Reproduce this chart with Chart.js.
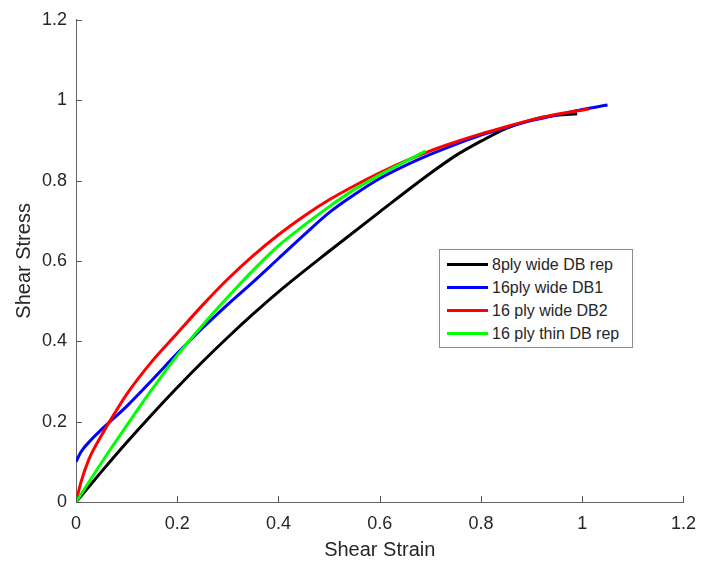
<!DOCTYPE html>
<html lang="en">
<head>
    <meta charset="UTF-8">
    <title>Shear Stress vs Shear Strain</title>
    <script src="https://cdn.jsdelivr.net/npm/chart.js"></script>
    <style>
        body { margin: 0; background: #fff; }
        #wrap { position: relative; width: 707px; height: 567px; }
        #legend {
            position: absolute; left: 439px; top: 249px; width: 192px; height: 97px;
            border: 1px solid #8c8c8c; background: #fff;
            font-family: "Liberation Sans", Arial, sans-serif; font-size: 16px; color: #262626;
        }
        #legend .row { position: absolute; left: 0; height: 23px; line-height: 23px; white-space: nowrap; }
        #legend .swatch { position: absolute; left: 7px; top: 10px; width: 41px; height: 3px; }
        #legend .label { position: absolute; left: 52px; top: 0; }
    </style>
</head>
<body>
<div id="wrap">
    <canvas id="myChart" width="707" height="567"></canvas>
    <div id="legend"></div>
</div>

<script>
    // series (x = shear strain, y = shear stress)
    var seriesNames = ['8ply wide DB rep', '16ply wide DB1', '16 ply wide DB2', '16 ply thin DB rep'];
    var seriesColors = ['#000000', '#0000ff', '#ff0000', '#00ff00'];

    var blackX = [0, 0.05, 0.1, 0.15, 0.2, 0.25, 0.3, 0.35, 0.4, 0.5, 0.6, 0.7, 0.75, 0.8, 0.85, 0.9, 0.95, 0.99];
    var blackY = [0, 0.075, 0.148, 0.218, 0.285, 0.349, 0.41, 0.468, 0.523, 0.624, 0.722, 0.818, 0.862, 0.898, 0.93, 0.951, 0.963, 0.966];

    var blueX = [0, 0.01, 0.03, 0.05, 0.1, 0.15, 0.2, 0.25, 0.3, 0.35, 0.4, 0.45, 0.5, 0.55, 0.6, 0.65, 0.7, 0.75, 0.8, 0.85, 0.9, 0.95, 1.0, 1.05];
    var blueY = [0.10, 0.125, 0.155, 0.18, 0.238, 0.303, 0.37, 0.433, 0.492, 0.548, 0.606, 0.664, 0.72, 0.765, 0.805, 0.837, 0.865, 0.89, 0.913, 0.932, 0.949, 0.963, 0.977, 0.988];

    var redX = [0, 0.01, 0.025, 0.05, 0.075, 0.1, 0.15, 0.2, 0.25, 0.3, 0.35, 0.4, 0.45, 0.5, 0.55, 0.6, 0.65, 0.7, 0.75, 0.8, 0.85, 0.9, 0.95, 1.013];
    var redY = [0, 0.05, 0.105, 0.165, 0.218, 0.268, 0.35, 0.42, 0.49, 0.555, 0.613, 0.665, 0.711, 0.752, 0.787, 0.819, 0.848, 0.874, 0.896, 0.916, 0.934, 0.951, 0.965, 0.978];

    var greenX = [0, 0.05, 0.1, 0.15, 0.2, 0.25, 0.3, 0.35, 0.4, 0.45, 0.5, 0.55, 0.6, 0.65, 0.69];
    var greenY = [0, 0.097, 0.19, 0.28, 0.365, 0.44, 0.51, 0.577, 0.638, 0.688, 0.735, 0.778, 0.814, 0.847, 0.873];

    var axisMin = 0, axisMax = 1.2, axisStep = 0.2;

    function toPoints(xs, ys) {
        return xs.map(function (x, i) { return { x: x, y: ys[i] }; });
    }

    var allX = [blackX, blueX, redX, greenX];
    var allY = [blackY, blueY, redY, greenY];

    var datasets = seriesNames.map(function (name, i) {
        return {
            label: name,
            data: toPoints(allX[i], allY[i]),
            borderColor: seriesColors[i],
            backgroundColor: seriesColors[i],
            borderWidth: 3,
            pointRadius: 0,
            fill: false,
            cubicInterpolationMode: 'monotone',
            order: seriesNames.length - i   // later series drawn on top, like MATLAB
        };
    });

    // MATLAB-style ticks pointing into the plot
    var inwardTicks = {
        id: 'inwardTicks',
        afterDraw: function (chart) {
            var ctx = chart.ctx;
            var xs = chart.scales.x, ys = chart.scales.y;
            var len = 6;
            ctx.save();
            ctx.strokeStyle = '#555';
            ctx.lineWidth = 1;
            ctx.beginPath();
            xs.ticks.forEach(function (t) {
                var px = Math.round(xs.getPixelForValue(t.value)) + 0.5;
                ctx.moveTo(px, ys.bottom);
                ctx.lineTo(px, ys.bottom - len);
            });
            ys.ticks.forEach(function (t) {
                var py = Math.round(ys.getPixelForValue(t.value)) + 0.5;
                ctx.moveTo(xs.left, py);
                ctx.lineTo(xs.left + len, py);
            });
            ctx.stroke();
            ctx.restore();
        }
    };

    function fmt(v) { return String(Math.round(v * 10) / 10); }

    var tickFont = { family: '"Liberation Sans", Arial, sans-serif', size: 18 };
    var titleFont = { family: '"Liberation Sans", Arial, sans-serif', size: 20 };

    var ctx = document.getElementById('myChart').getContext('2d');
    var myChart = new Chart(ctx, {
        type: 'line',
        data: { datasets: datasets },
        plugins: [inwardTicks],
        options: {
            responsive: false,
            animation: false,
            layout: { padding: { left: 0, right: 20, top: 17, bottom: 0 } },
            plugins: {
                legend: { display: false },
                tooltip: { enabled: false }
            },
            scales: {
                x: {
                    type: 'linear',
                    position: 'bottom',
                    min: axisMin,
                    max: axisMax,
                    afterFit: function (s) { s.height = 65; },
                    grid: { drawOnChartArea: false, drawTicks: false },
                    border: { display: true, color: '#666', width: 1 },
                    ticks: { stepSize: axisStep, padding: 11, color: '#262626', font: tickFont, callback: fmt, maxRotation: 0 },
                    title: { display: true, text: 'Shear Strain', color: '#262626', font: titleFont, padding: { top: 0, bottom: 5 } }
                },
                y: {
                    min: axisMin,
                    max: axisMax,
                    afterFit: function (s) { s.width = 76; },
                    grid: { drawOnChartArea: false, drawTicks: false },
                    border: { display: true, color: '#666', width: 1 },
                    ticks: { stepSize: axisStep, padding: 9, color: '#262626', font: tickFont, callback: fmt },
                    title: { display: true, text: 'Shear Stress', color: '#262626', font: titleFont, padding: { top: 12, bottom: 0 } }
                }
            }
        }
    });

    // legend box inside the plot, built from the datasets
    var legendEl = document.getElementById('legend');
    myChart.data.datasets.forEach(function (ds, i) {
        var row = document.createElement('div');
        row.className = 'row';
        row.style.top = (3 + i * 23) + 'px';
        row.innerHTML = '<span class="swatch" style="background:' + ds.borderColor + '"></span>' +
            '<span class="label">' + ds.label + '</span>';
        legendEl.appendChild(row);
    });
</script>
</body>
</html>
